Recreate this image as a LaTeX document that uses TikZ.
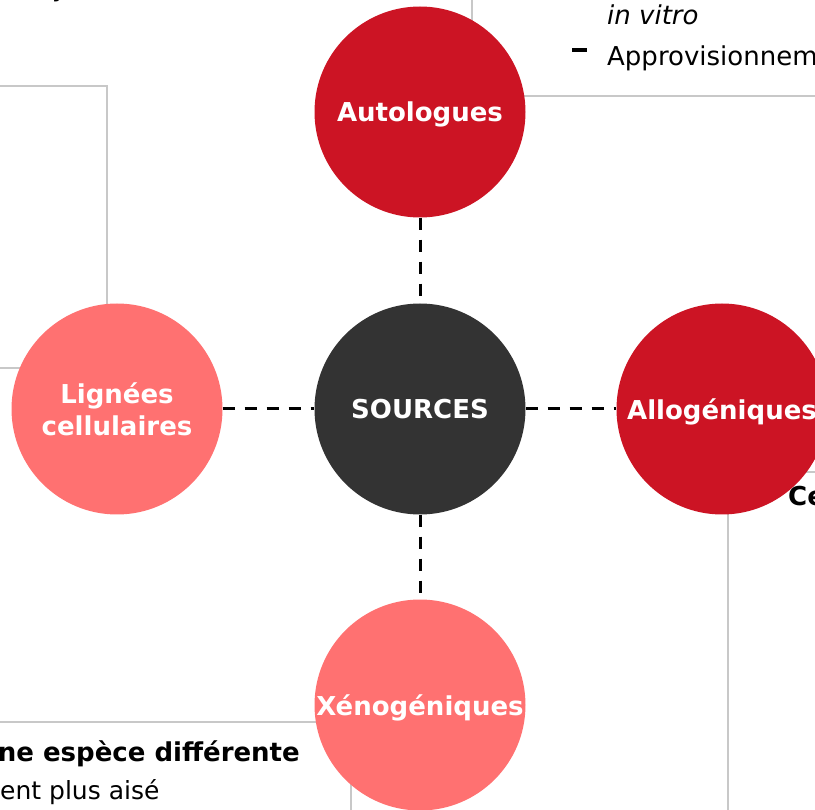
\documentclass[tikz,border=0pt]{standalone}
\usepackage{fontspec}
\setmainfont{DejaVu Sans}
\definecolor{darkred}{RGB}{204,20,36}
\definecolor{lightred}{RGB}{255,113,113}
\definecolor{coregray}{RGB}{51,51,51}
\definecolor{panelgray}{RGB}{200,200,200}
\begin{document}
\begin{tikzpicture}[x=1pt,y=-1pt,
  bubble/.style={circle, minimum size=211pt, inner sep=0pt, text=white,
    font=\fontsize{26}{32}\selectfont\bfseries, align=center},
  oneline/.style={text depth=0pt},
  link/.style={draw=black, line width=3pt, dash pattern=on 12pt off 10pt},
  panel/.style={draw=panelgray, line width=2pt},
  body/.style={inner sep=0pt, font=\fontsize{26}{32}\selectfont, text=black}
]
\useasboundingbox (0,0) rectangle (815,810);
% panel borders (behind circles)
\draw[panel] (0,86) -- (107,86) -- (107,330);
\draw[panel] (0,368) -- (60,368);
\draw[panel] (472,0) -- (472,96) -- (815,96);
\draw[panel] (815,472) -- (728,472) -- (728,810);
\draw[panel] (0,722) -- (351,722) -- (351,810);
% circles
\node[bubble, oneline, fill=coregray] (src) at (420,409) {SOURCES};
\node[bubble, oneline, fill=darkred] (auto) at (420,112) {Autologues};
\node[bubble, fill=lightred] (lig) at (117,409) {Lignées\\cellulaires};
\node[bubble, oneline, fill=darkred] (allo) at (722,409) {Allogéniques};
\node[bubble, oneline, fill=lightred] (xeno) at (420,705) {Xénogéniques};
% connectors
\draw[link] (auto) -- (src);
\draw[link] (lig) -- (src);
\draw[link] (src) -- (allo);
\draw[link] (src) -- (xeno);
% texts
\node[body, anchor=base west] (ty) at (52,-3) {y};
\node[body, anchor=base west] (tvitro) at (607,25) {\itshape in vitro};
\node[body, anchor=base west] (tdash) at (572,52) {\rule{15pt}{3.5pt}};
\node[body, anchor=base west] (tappro) at (607,66) {Approvisionnem};
\node[body, anchor=base west] (tce) at (788,506) {\bfseries Ce};
\node[body, anchor=base east] (tesp) at (300,761) {\bfseries ne espèce différente};
\node[body, anchor=base west, font=\fontsize{25}{30}\selectfont] (tplus) at (0,799) {ent plus aisé};
\end{tikzpicture}
\end{document}
